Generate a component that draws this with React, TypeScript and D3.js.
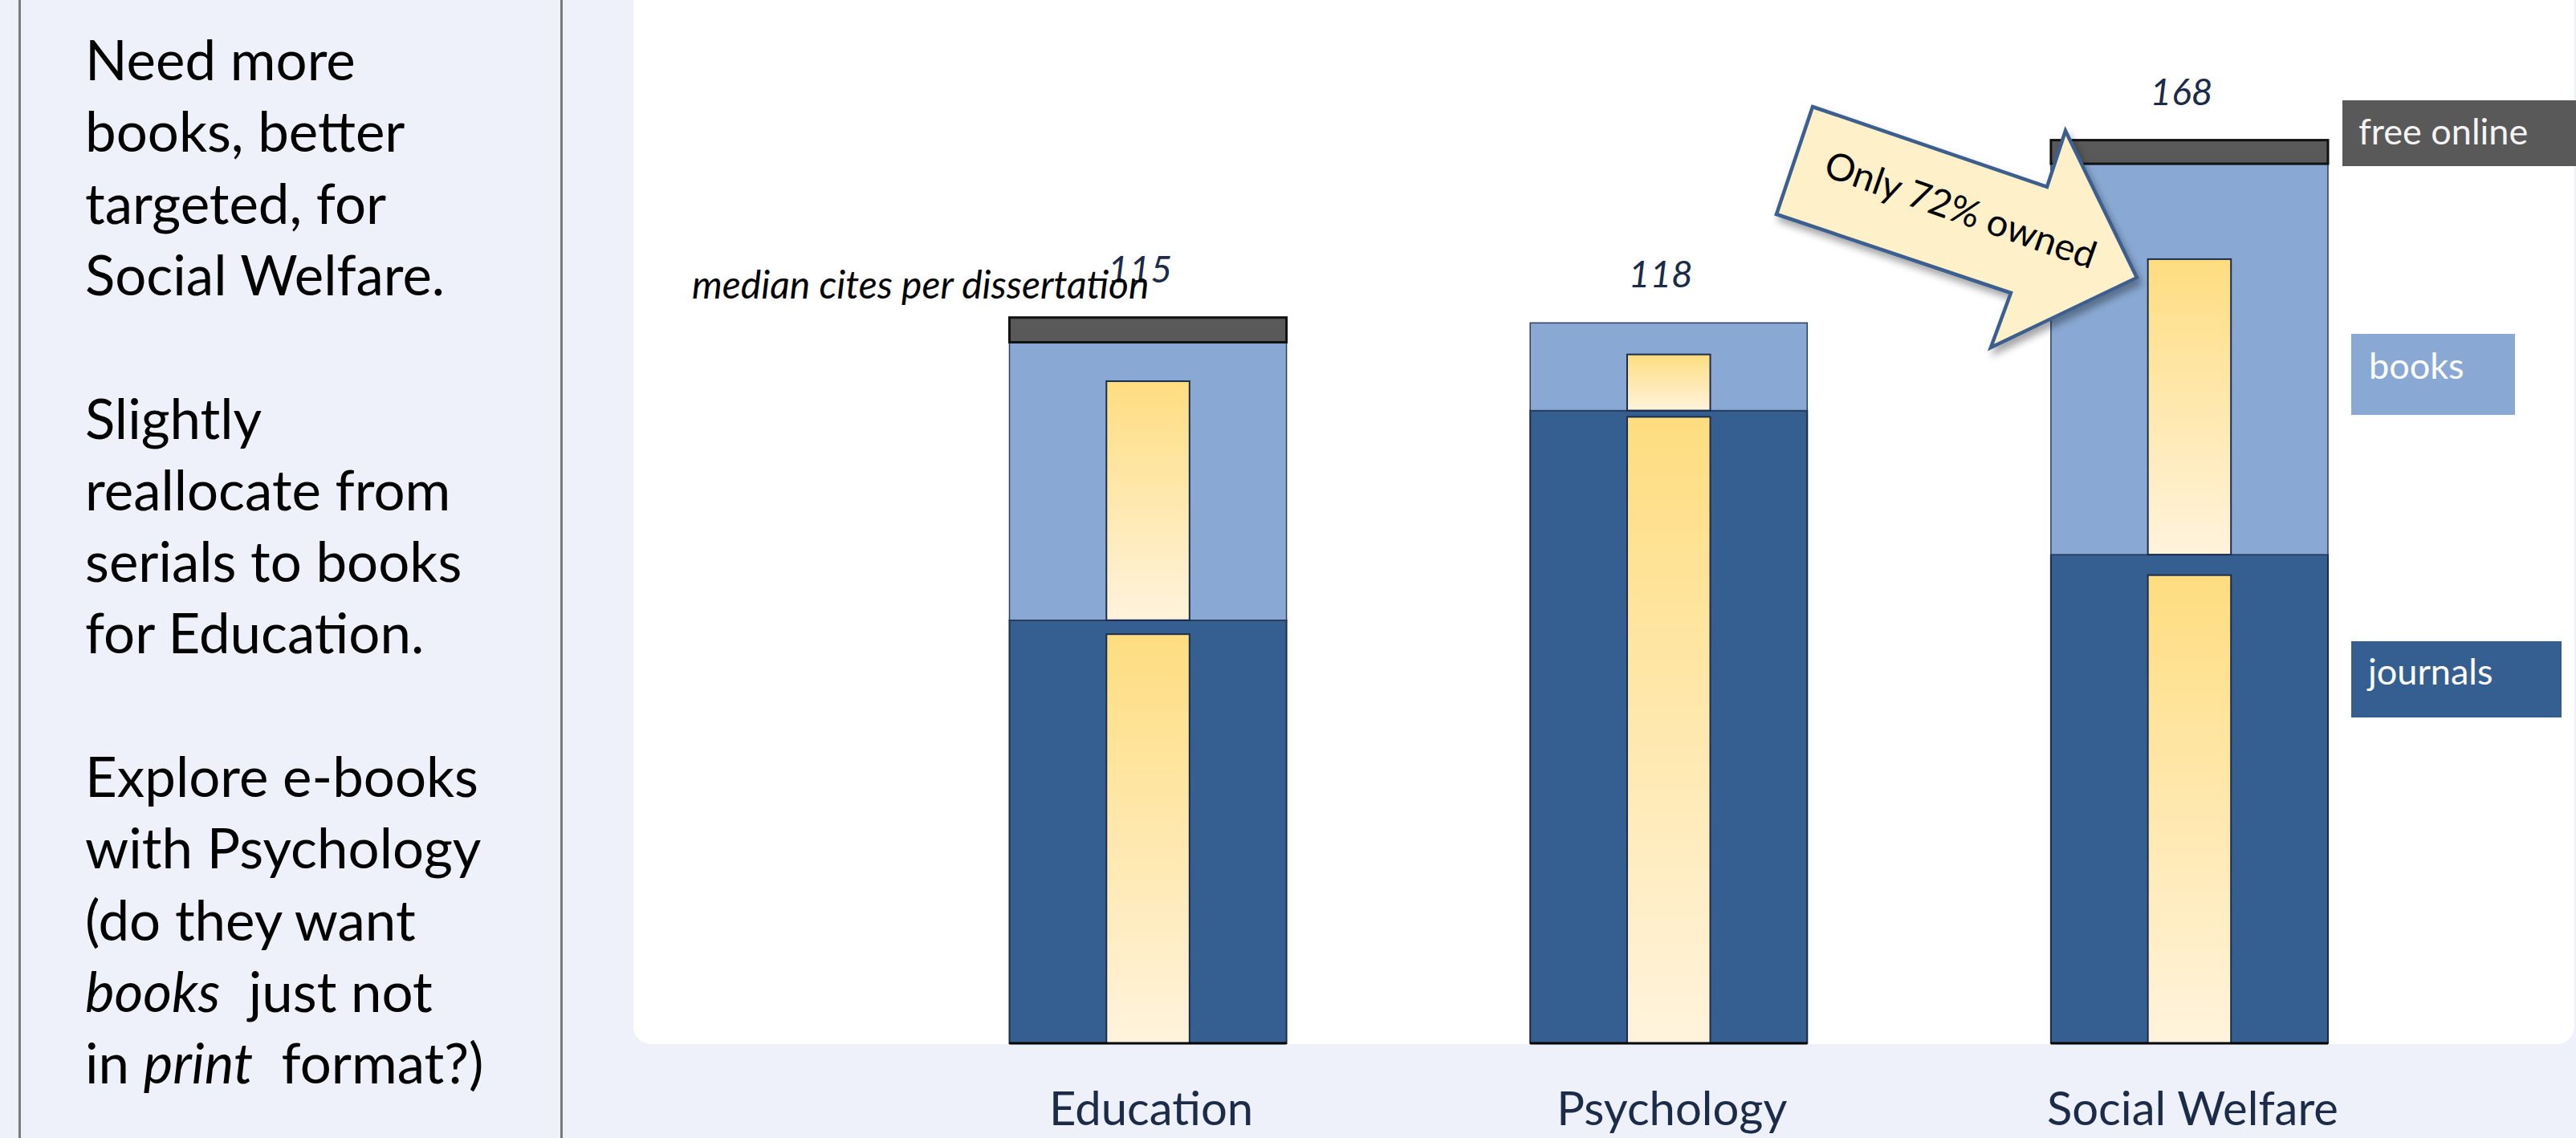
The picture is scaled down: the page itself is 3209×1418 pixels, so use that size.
import React from "react";
import * as d3 from "d3";

// ---- data ----
const categories = ["Education", "Psychology", "Social Welfare"];
const medianCites = [115, 118, 168];
const journals = [78.7, 117.7, 90.9];
const books = [51.7, 16.3, 72.7];
const freeOnline = [4.6, 0, 4.4];
const ownedJournalsPct = [96.7, 99, 95.8];
const ownedBooksPct = [86, 64, 75.6];
const legendLabels = ["free online", "books", "journals"];
const calloutText = "Only 72% owned";
const chartLabel = "median cites per dissertation";

const W = 3209;
const H = 1418;
const FONT = "Lato, 'Open Sans', sans-serif";

const C = {
  bg: "#eef1f9",
  journals: "#365f91",
  books: "#89a9d4",
  free: "#595959",
  navy: "#1b2b48",
  arrowFill: "#fef0c8",
  arrowStroke: "#3d5f8f",
};

export default function App() {
  const x = d3
    .scaleBand<string>()
    .domain(categories)
    .range([1257.5, 2900])
    .paddingInner(0.468)
    .paddingOuter(0);
  const y = d3.scaleLinear().domain([0, 168]).range([1300, 174.6]);
  const bw = x.bandwidth();
  const innerW = bw * 0.3;

  const rows = categories.map((c, i) => {
    const j0 = 0;
    const j1 = journals[i];
    const b1 = j1 + books[i];
    const f1 = b1 + freeOnline[i];
    return { c, i, j0, j1, b1, f1 };
  });

  const arrowPts: [number, number][] = [
    [2258, 133],
    [2550, 233],
    [2573, 163],
    [2662, 346],
    [2480, 433],
    [2505, 365],
    [2213, 267],
  ];

  const leftLines: { parts: { t: string; it?: boolean }[]; y: number }[] = [];
  const paragraphs: { t: string; it?: boolean }[][][] = [
    [
      [{ t: "Need more" }],
      [{ t: "books, better" }],
      [{ t: "targeted, for" }],
      [{ t: "Social Welfare." }],
    ],
    [
      [{ t: "Slightly" }],
      [{ t: "reallocate from" }],
      [{ t: "serials to books" }],
      [{ t: "for Education." }],
    ],
    [
      [{ t: "Explore e-books" }],
      [{ t: "with Psychology" }],
      [{ t: "(do they want" }],
      [{ t: "books", it: true }, { t: "\u00a0 just not" }],
      [{ t: "in " }, { t: "print", it: true }, { t: "\u00a0 format?)" }],
    ],
  ];
  let ly = 100;
  paragraphs.forEach((p) => {
    p.forEach((parts) => {
      leftLines.push({ parts, y: ly });
      ly += 89.3;
    });
    ly += 89.3;
  });

  return (
    <svg
      width={W}
      height={H}
      viewBox={`0 0 ${W} ${H}`}
      style={{ position: "absolute", left: 0, top: 0, display: "block" }}
      fontFamily={FONT}
    >
      <defs>
        <linearGradient id="ygrad" x1="0" y1="0" x2="0" y2="1">
          <stop offset="0%" stopColor="#fedd80" />
          <stop offset="100%" stopColor="#fff3dc" />
        </linearGradient>
        <filter id="shadow" x="-20%" y="-20%" width="140%" height="150%">
          <feDropShadow dx="4" dy="7" stdDeviation="5" floodColor="#000" floodOpacity="0.35" />
        </filter>
      </defs>

      <rect x={0} y={0} width={W} height={H} fill={C.bg} />
      {/* left panel borders */}
      <line x1={24.5} y1={0} x2={24.5} y2={H} stroke="#7a7a7a" strokeWidth={3} />
      <line x1={699.5} y1={0} x2={699.5} y2={H} stroke="#7a7a7a" strokeWidth={3} />

      {/* left text */}
      <g fontSize={69} fill="#000">
        {leftLines.map((l, k) => (
          <text key={k} x={106} y={l.y}>
            {l.parts.map((p, m) => (
              <tspan key={m} fontStyle={p.it ? "italic" : "normal"}>
                {p.t}
              </tspan>
            ))}
          </text>
        ))}
      </g>

      {/* white chart panel */}
      <rect x={789} y={-40} width={2418} height={1341} rx={22} fill="#ffffff" />

      {/* bars */}
      {rows.map((r) => {
        const x0 = x(r.c)!;
        const cx = x0 + bw / 2;
        const ob = (books[r.i] * ownedBooksPct[r.i]) / 100;
        const oj = (journals[r.i] * ownedJournalsPct[r.i]) / 100;
        return (
          <g key={r.c}>
            <rect
              x={x0}
              y={y(r.j1)}
              width={bw}
              height={y(r.j0) - y(r.j1)}
              fill={C.journals}
              stroke="#1c2c48"
              strokeWidth={2}
            />
            <rect
              x={x0}
              y={y(r.b1)}
              width={bw}
              height={y(r.j1) - y(r.b1)}
              fill={C.books}
              stroke="#2a3e60"
              strokeWidth={1.5}
            />
            {freeOnline[r.i] > 0 && (
              <rect
                x={x0}
                y={y(r.f1)}
                width={bw}
                height={y(r.b1) - y(r.f1)}
                fill={C.free}
                stroke="#111"
                strokeWidth={3}
              />
            )}
            {/* owned books */}
            <rect
              x={cx - innerW / 2}
              y={y(r.j1 + ob)}
              width={innerW}
              height={y(r.j1) - y(r.j1 + ob)}
              fill="url(#ygrad)"
              stroke="#1b2d4a"
              strokeWidth={2}
            />
            {/* owned journals */}
            <rect
              x={cx - innerW / 2}
              y={y(oj)}
              width={innerW}
              height={y(0) - y(oj)}
              fill="url(#ygrad)"
              stroke="#1b2d4a"
              strokeWidth={2}
            />
            <line x1={x0} x2={x0 + bw} y1={y(0)} y2={y(0)} stroke="#000" strokeWidth={3} />
            {/* value label */}
            <text
              x={cx - 10}
              y={y(r.f1) - 44}
              textAnchor="middle"
              fontStyle="italic"
              fontSize={46}
              fill={C.navy}
            >
              {medianCites[r.i]}
            </text>
            {/* category label */}
            <text x={cx + 4} y={1402} textAnchor="middle" fontSize={58} fill={C.navy}>
              {r.c}
            </text>
          </g>
        );
      })}

      {/* chart label */}
      <text x={862} y={372} fontStyle="italic" fontSize={48} fill="#000">
        {chartLabel}
      </text>

      {/* legend */}
      <rect x={2918} y={125} width={300} height={82} fill={C.free} />
      <text x={2938} y={180} fontSize={45} fill="#f4f4f4">
        {legendLabels[0]}
      </text>
      <rect x={2929} y={416} width={204} height={101} fill={C.books} />
      <text x={2951} y={472} fontSize={45} fill="#ffffff">
        {legendLabels[1]}
      </text>
      <rect x={2929} y={799} width={262} height={95} fill={C.journals} />
      <text x={2950} y={853} fontSize={45} fill="#ffffff">
        {legendLabels[2]}
      </text>

      {/* callout arrow */}
      <polygon
        points={arrowPts.map((p) => p.join(",")).join(" ")}
        fill={C.arrowFill}
        stroke={C.arrowStroke}
        strokeWidth={4.5}
        strokeLinejoin="miter"
        filter="url(#shadow)"
      />
      <text
        transform="translate(2437,277) rotate(19.3)"
        textAnchor="middle"
        fontSize={47}
        fill="#000"
      >
        {calloutText}
      </text>
    </svg>
  );
}
